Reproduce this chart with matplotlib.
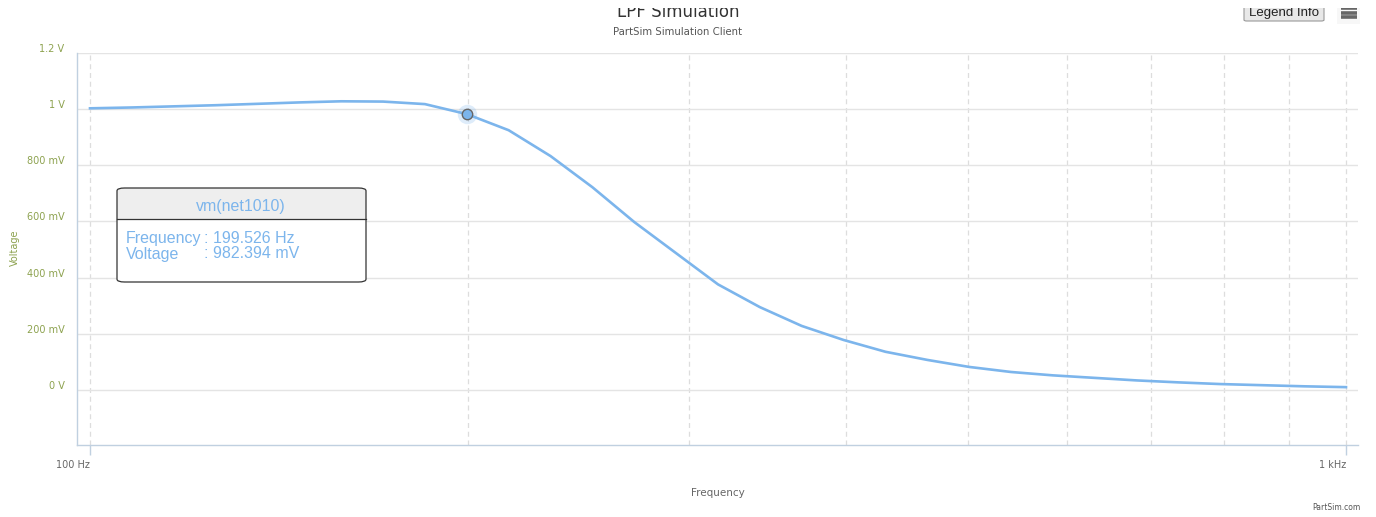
import matplotlib
matplotlib.use('Agg')
import matplotlib.pyplot as plt
import matplotlib.transforms as mtrans
from matplotlib.patches import FancyBboxPatch, Rectangle
from matplotlib.lines import Line2D
from matplotlib.ticker import FixedLocator, NullFormatter

# AC sweep of vm(net1010), 30 points per decade
freq_hz = [100.0, 107.98, 116.59, 125.89, 135.94, 146.78, 158.49, 171.13, 184.78,
           199.526, 215.44, 232.63, 251.19, 271.23, 292.87, 316.23, 341.45, 368.70,
           398.11, 429.87, 464.16, 501.19, 541.17, 584.34, 630.96, 681.29, 735.64,
           794.33, 857.70, 926.12, 1000.0]
volt_mv = [1003, 1006, 1010, 1014, 1019, 1024, 1028, 1027, 1018, 982.394, 925,
           833, 722, 598, 487, 376, 295, 228, 178, 136, 107, 82, 64, 52, 43,
           34, 27, 21, 17, 13, 10]

ytick_v = [0, 0.2, 0.4, 0.6, 0.8, 1.0, 1.2]
ytick_lbl = ['0 V', '200 mV', '400 mV', '600 mV', '800 mV', '1 V', '1.2 V']
xtick_hz = [100, 1000]
xtick_lbl = ['100 Hz', '1 kHz']
grid_hz = [100, 200, 300, 400, 500, 600, 700, 800, 900, 1000]

hover_idx = 9

W, H = 1376, 517
LINE = '#7cb5ec'
GREEN = '#8da24f'
AXIS = '#c0d0e0'

plt.rcParams['font.family'] = ['DejaVu Sans']

fig = plt.figure(figsize=(W / 100, H / 100), dpi=100)


def fx(px):
    return px / W


def fy(py):
    return 1 - py / H


ax = fig.add_axes([fx(77), fy(445), fx(1358) - fx(77), fy(53) - fy(445)])
ax.set_xscale('log')
ax.set_xlim(10 ** 1.98965, 10 ** 3.00955)
ax.set_ylim(-0.196, 1.2)

for s in ['top', 'right']:
    ax.spines[s].set_visible(False)
for s in ['left', 'bottom']:
    ax.spines[s].set_color(AXIS)
    ax.spines[s].set_linewidth(1)

# grid
for g in grid_hz:
    ax.axvline(g, color='#dddddd', lw=0.9, ls=(0, (4, 3)), zorder=0)
for v in ytick_v:
    ax.axhline(v, color='#e4e4e4', lw=1, zorder=0)

ax.xaxis.set_major_locator(FixedLocator(xtick_hz))
ax.xaxis.set_minor_locator(FixedLocator([]))
ax.xaxis.set_minor_formatter(NullFormatter())
ax.set_xticklabels(xtick_lbl)
ax.tick_params(axis='x', length=7, width=1, color=AXIS, labelsize=7,
               labelcolor='#666666', pad=4)
for lbl in ax.get_xticklabels():
    lbl.set_horizontalalignment('right')

ax.set_yticks(ytick_v)
ax.set_yticklabels(ytick_lbl)
ax.tick_params(axis='y', length=0, labelsize=7, labelcolor=GREEN, pad=9)
shift = mtrans.ScaledTranslation(0, 5 / 100, fig.dpi_scale_trans)
for lbl in ax.get_yticklabels():
    lbl.set_transform(lbl.get_transform() + shift)

volt = [v / 1000 for v in volt_mv]
ax.plot(freq_hz, volt, color=LINE, lw=1.9, solid_joinstyle='round', zorder=3)

# hovered point
hx, hy = freq_hz[hover_idx], volt[hover_idx]
ax.plot([hx], [hy], 'o', ms=14, color=LINE, alpha=0.25, mew=0, zorder=4)
ax.plot([hx], [hy], 'o', ms=7.5, mfc=LINE, mec='#666666', mew=1, zorder=5)

# axis titles
fig.text(fx(15), fy(248), 'Voltage', rotation=90, color=GREEN, fontsize=7,
         ha='center', va='center')
fig.text(fx(718), fy(493), 'Frequency', color='#666666', fontsize=7.5,
         ha='center', va='center')
fig.text(fx(1336), fy(508), 'PartSim.com', color='#555555', fontsize=5.5,
         ha='center', va='center')

# title block
fig.text(fx(678), fy(17), 'LPF Simulation', color='#333333', fontsize=12,
         ha='center', va='baseline')
fig.text(fx(678), fy(32), 'PartSim Simulation Client', color='#555555',
         fontsize=7.3, ha='center', va='center')

# export buttons
btn = FancyBboxPatch((fx(1244), fy(21)), fx(80), fy(-2) - fy(21),
                     boxstyle='round,pad=0,rounding_size=0.002',
                     transform=fig.transFigure, fc='#e8e8e8', ec='#999999',
                     lw=0.8, zorder=2)
fig.add_artist(btn)
fig.text(fx(1284), fy(16), 'Legend Info', color='#222222', fontsize=9.5,
         family=['Liberation Sans'], ha='center', va='baseline', zorder=3)
fig.add_artist(Rectangle((fx(1337), fy(24)), fx(23), fy(0) - fy(24),
                         transform=fig.transFigure, fc='#f7f7f7', ec='none',
                         zorder=2))
for yy in [8, 12.5, 17]:
    fig.add_artist(Line2D([fx(1341), fx(1357)], [fy(yy), fy(yy)],
                          transform=fig.transFigure, color='#666666', lw=2.6,
                          solid_capstyle='butt', zorder=3))

# page header overlaps the top strip
fig.add_artist(Rectangle((0, fy(8)), 1, fy(0) - fy(8), transform=fig.transFigure,
                         fc='white', ec='none', zorder=10))

# tooltip
bx0, bx1, by0, by1, hdr = 117, 366, 188, 282, 219
box = FancyBboxPatch((fx(bx0), fy(by1)), fx(bx1 - bx0), fy(by0) - fy(by1),
                     boxstyle='round,pad=0,rounding_size=0.0055',
                     transform=fig.transFigure, fc='white', ec='none',
                     zorder=20)
fig.add_artist(box)
head = Rectangle((fx(bx0), fy(hdr)), fx(bx1 - bx0), fy(by0) - fy(hdr),
                 transform=fig.transFigure, fc='#eeeeee', ec='none', zorder=21)
fig.add_artist(head)
head.set_clip_path(box)
fig.add_artist(Line2D([fx(bx0), fx(bx1)], [fy(hdr), fy(hdr)],
                      transform=fig.transFigure, color='#333333', lw=0.9,
                      zorder=22))
outline = FancyBboxPatch((fx(bx0), fy(by1)), fx(bx1 - bx0), fy(by0) - fy(by1),
                         boxstyle='round,pad=0,rounding_size=0.0055',
                         transform=fig.transFigure, fc='none', ec='#333333',
                         lw=0.9, zorder=23)
fig.add_artist(outline)

tip = dict(color=LINE, fontsize=11.5, family=['Liberation Sans'], zorder=24)
fig.text(fx(241), fy(206), 'vm(net1010)', ha='center', va='center', **tip)
fig.text(fx(126), fy(238), 'Frequency', ha='left', va='center', **tip)
fig.text(fx(204), fy(238), ': %.3f Hz' % hx, ha='left', va='center', **tip)
fig.text(fx(126), fy(254), 'Voltage', ha='left', va='center', **tip)
fig.text(fx(204), fy(254), ': %.3f mV' % volt_mv[hover_idx], ha='left',
         va='center', **tip)

fig.savefig('out.png', dpi=100)
